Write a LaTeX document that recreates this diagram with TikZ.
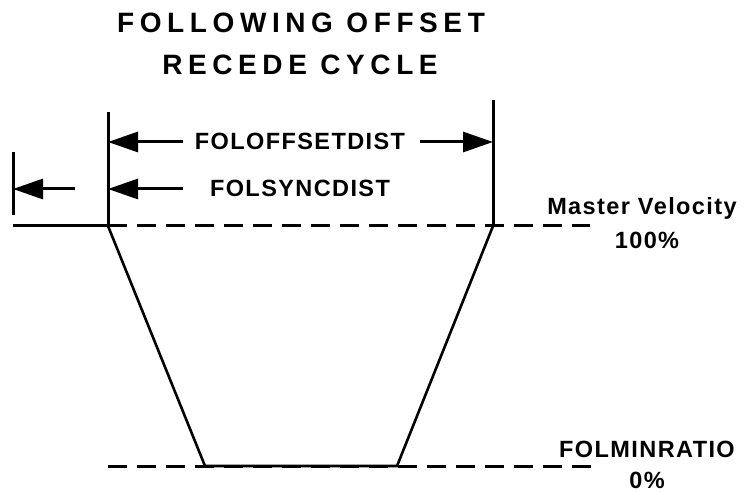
\documentclass[tikz,border=0pt]{standalone}
\usepackage{fontspec}
\setmainfont{Liberation Sans}
\newfontfamily\labelfont[LetterSpace=6]{Liberation Sans}
\newfontfamily\titlefont[LetterSpace=20]{Liberation Sans}
\usetikzlibrary{arrows.meta,positioning,calc}

\begin{document}
\begin{tikzpicture}[
    x=1pt, y=-1pt,
    heading/.style={inner sep=0pt, anchor=base, font=\titlefont\bfseries\fontsize{28}{34}\selectfont},
    dimlabel/.style={inner sep=0pt, anchor=base, font=\labelfont\bfseries\fontsize{23.5}{28}\selectfont},
    guide/.style={line width=3pt},
    level/.style={line width=3pt, dash pattern=on 19pt off 10pt},
    ramp/.style={line width=2.6pt, line join=miter},
    dimarrow/.style={-{Triangle[length=30pt,width=20pt]}, line width=3pt}
]
\useasboundingbox (0,0) rectangle (748,492);

% Nodes
\node[heading] (title1) at (301,33) {FOLLOWING OFFSET};
\node[heading] (title2) at (300,75) {RECEDE CYCLE};
\node[dimlabel] (offsetlbl) at (300,150) {FOLOFFSETDIST};
\node[dimlabel] (synclbl) at (300,197) {FOLSYNCDIST};
\node[dimlabel] (mastervel) at (642,215) {Master Velocity};
\node[dimlabel] (masterpct) at (647,248) {100\%};
\node[dimlabel] (minratio) at (647,457) {FOLMINRATIO};
\node[dimlabel] (minpct) at (647,488) {0\%};

% Guide lines
\coordinate (prevtop) at (13,152);
\coordinate (prevbot) at (13,215);
\coordinate (starttop) at (108,112);
\coordinate (startbot) at (108,226);
\coordinate (endtop) at (493,100);
\coordinate (endbot) at (493,226);
\coordinate (levelL) at (13,226);
\coordinate (levelR) at (590,226);
\coordinate (floorL) at (108,466);
\coordinate (floorR) at (596,466);
\coordinate (rampL) at (205,466);
\coordinate (rampR) at (397,466);

\draw[guide] (prevtop) -- (prevbot);
\draw[guide] (starttop) -- (startbot);
\draw[guide] (endtop) -- (endbot);

% Levels
\draw[guide] (levelL) -- (startbot);
\draw[level] (startbot) -- (levelR);
\draw[level] (floorL) -- (floorR);

% Velocity profile
\draw[ramp] (startbot) -- (rampL) -- (rampR) -- (endbot);

% Edges
\draw[dimarrow] (183,142) coordinate (offsetA) -- (offsetA -| starttop);
\draw[dimarrow] (420,142) coordinate (offsetB) -- (offsetB -| endtop);
\draw[dimarrow] (183,189) coordinate (syncA) -- (syncA -| starttop);
\draw[dimarrow] (75,189) coordinate (prevA) -- (prevA -| prevtop);

\end{tikzpicture}
\end{document}
